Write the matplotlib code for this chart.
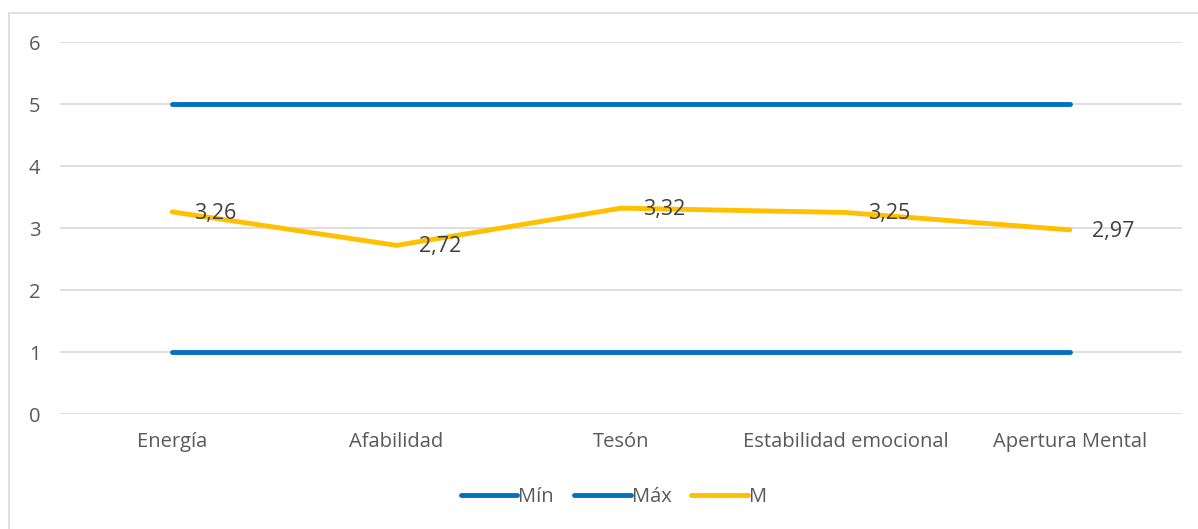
import matplotlib
matplotlib.use("Agg")
import matplotlib.pyplot as plt
from matplotlib.patches import Rectangle

categories = ["Energía", "Afabilidad", "Tesón", "Estabilidad emocional", "Apertura Mental"]
min_vals = [1, 1, 1, 1, 1]
max_vals = [5, 5, 5, 5, 5]
m_vals = [3.26, 2.72, 3.32, 3.25, 2.97]
m_labels = ["3,26", "2,72", "3,32", "3,25", "2,97"]
yticks = [0, 1, 2, 3, 4, 5, 6]

plt.rcParams['font.family'] = ['Open Sans', 'DejaVu Sans']
W, H = 1198, 529
fig = plt.figure(figsize=(W/100, H/100), dpi=100)
ax = fig.add_axes([60/W, 1-414/H, (1182-60)/W, (414-42)/H])

blue = "#0070C0"
yellow = "#FFC000"
txt = "#595959"
x = list(range(len(categories)))
ax.plot(x, min_vals, color=blue, lw=3.5, solid_capstyle="round", label="Mín", zorder=3)
ax.plot(x, max_vals, color=blue, lw=3.5, solid_capstyle="round", label="Máx", zorder=3)
ax.plot(x, m_vals, color=yellow, lw=3.5, solid_capstyle="round", solid_joinstyle="round", label="M", zorder=3)
for xi, v, lab in zip(x, m_vals, m_labels):
    ax.annotate(lab, (xi, v), xytext=(16, -1), textcoords="offset points",
                ha="left", va="center", fontsize=15.5, color="#404040", zorder=4)

ax.set_xlim(-0.5, len(categories) - 0.5)
ax.set_ylim(0, 6)
ax.set_yticks(yticks)
ax.set_xticks(x)
ax.set_xticklabels(categories)
ax.grid(axis="y", color="#D9D9D9", lw=1.2)
ax.set_axisbelow(True)
for s in ax.spines.values():
    s.set_visible(False)
ax.tick_params(axis="both", length=0, labelsize=14.5, colors=txt)
ax.tick_params(axis="y", pad=14)
ax.tick_params(axis="x", pad=13)

leg = fig.legend(loc="center", bbox_to_anchor=(614/W, 1-497/H), ncol=3, frameon=False,
                 fontsize=14.5, handlelength=2.8, handletextpad=0.05, columnspacing=1.0,
                 labelcolor=txt)

fig.patches.append(Rectangle((8.5/W, -0.05), 1.2, (529-13)/H + 0.05, transform=fig.transFigure,
                             fill=False, edgecolor="#D9D9D9", lw=1.2, clip_on=False))
fig.savefig("out.png", dpi=100)
